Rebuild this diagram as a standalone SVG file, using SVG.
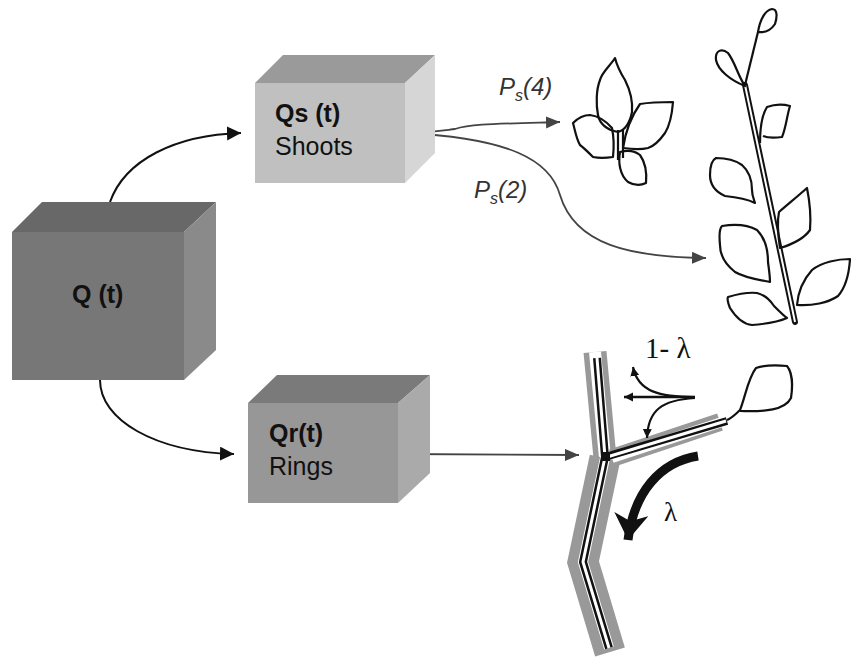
<svg xmlns="http://www.w3.org/2000/svg" width="851" height="657" viewBox="0 0 851 657">
<style>
.lbl{font-family:"Liberation Sans",Arial,sans-serif;font-size:25px;fill:#111}
.b{font-weight:bold}
.ps{font-family:"Liberation Sans",Arial,sans-serif;font-style:italic;font-size:24px;fill:#333}
.ser{font-family:"Liberation Serif","Times New Roman",serif;fill:#111}
.leaf{fill:none;stroke:#111;stroke-width:2.2;stroke-linejoin:round}
.conB{fill:none;stroke:#111;stroke-width:2}
.conG{fill:none;stroke:#444;stroke-width:1.8}
</style>
<defs>
<marker id="ab" markerUnits="userSpaceOnUse" markerWidth="20" markerHeight="20" refX="14" refY="7" orient="auto">
<path d="M0,0 L14,7 L0,14 Z" fill="#111"/>
</marker>
<marker id="ag" markerUnits="userSpaceOnUse" markerWidth="20" markerHeight="20" refX="14" refY="6" orient="auto">
<path d="M0,0 L14,6 L0,12 Z" fill="#444"/>
</marker>
<marker id="as" markerUnits="userSpaceOnUse" markerWidth="14" markerHeight="14" refX="9" refY="4.5" orient="auto">
<path d="M0,0 L9,4.5 L0,9 Z" fill="#111"/>
</marker>
<marker id="abig" markerUnits="userSpaceOnUse" markerWidth="40" markerHeight="40" refX="26" refY="17" orient="auto">
<path d="M0,0 L26,17 L0,34 L7,17 Z" fill="#111"/>
</marker>
</defs>
<rect width="851" height="657" fill="#fff"/>

<g id="connectors">
<path class="conB" d="M110,202 C125,160 175,135 241,133" marker-end="url(#ab)"/>
<path class="conB" d="M100,380 C100,420 155,452 234,454" marker-end="url(#ab)"/>
<path class="conG" d="M398,454 L579,455" marker-end="url(#ag)"/>
<path class="conG" d="M405,133 C430,133 440,131 455,129 C470,124 490,124 560,122" marker-end="url(#ag)"/>
<path class="conG" d="M405,133 C510,138 550,160 560,195 C575,245 630,257 706,258" marker-end="url(#ag)"/>
</g>

<g id="node-Q">
<polygon points="12,232 42,202 216,202 184,232" fill="#686868"/>
<polygon points="184,232 216,202 216,350 184,380" fill="#8a8a8a"/>
<rect x="12" y="232" width="172" height="148" fill="#777"/>
<text class="lbl b" x="72" y="303">Q (t)</text>
</g>

<g id="node-Qs">
<polygon points="255,83 283,55 435,55 405,83" fill="#9a9a9a"/>
<polygon points="405,83 435,55 435,153 405,183" fill="#d6d6d6"/>
<rect x="255" y="83" width="150" height="100" fill="#c0c0c0"/>
<text class="lbl b" x="275" y="122">Qs (t)</text>
<text class="lbl" x="275" y="155" fill="#222">Shoots</text>
</g>

<g id="node-Qr">
<polygon points="248,403 277,375 430,375 398,403" fill="#7a7a7a"/>
<polygon points="398,403 430,375 430,473 398,503" fill="#aaa"/>
<rect x="248" y="403" width="150" height="100" fill="#979797"/>
<text class="lbl b" x="269" y="442">Qr(t)</text>
<text class="lbl" x="269" y="475" fill="#222">Rings</text>
</g>

<g id="labels">
<text class="ps" x="499" y="95">P<tspan font-size="16" dy="6">s</tspan><tspan dy="-6">(4)</tspan></text>
<text class="ps" x="474" y="198">P<tspan font-size="16" dy="6">s</tspan><tspan dy="-6">(2)</tspan></text>
</g>

<g id="shoot-small">
<path class="leaf" d="M615,58 C610,66 602,72 600,80 C596,90 596,105 598,115 C600,125 608,130 618,132 C625,130 630,122 632,112 C633,100 630,90 625,80 C620,72 617,66 615,58 Z"/>
<path class="leaf" d="M623,148 C625,135 630,118 640,104 C652,102 663,102 673,102 C672,115 670,125 665,133 C660,140 655,146 648,148 C640,150 630,149 623,148 Z"/>
<path class="leaf" d="M573,123 C578,118 583,115 590,115 C598,116 605,120 612,128 C614,138 614,148 613,157 C606,158 598,158 593,157 C588,152 584,148 580,145 C576,138 575,130 573,123 Z"/>
<path class="leaf" d="M620,152 C618,163 620,175 628,182 C635,186 642,185 646,183 C647,172 645,162 640,155 C635,151 628,150 620,152 Z"/>
<path class="leaf" stroke-width="1.6" d="M618,130 L618,160 M623,130 L623,158"/>
</g>

<g id="shoot-large">
<path d="M795,322 L745,85" stroke="#111" stroke-width="6" fill="none" stroke-linecap="round"/>
<path d="M795,322 L745,85" stroke="#fff" stroke-width="2" fill="none"/>
<path class="leaf" d="M745,85 L758,32"/>
<path class="leaf" d="M758,32 C760,20 765,10 772,9 C778,9 777,18 775,24 C771,30 765,33 758,32 Z"/>
<path class="leaf" d="M745,86 C738,76 735,62 728,53 C722,48 715,50 716,60 C718,70 730,80 745,86 Z"/>
<path class="leaf" d="M760,143 C760,130 762,115 767,107 C775,104 783,104 790,106 C787,115 786,128 782,137 C775,138 768,138 763,136"/>
<path class="leaf" d="M755,203 C745,198 735,197 725,196 C716,192 710,185 710,175 C710,165 712,160 716,158 C725,158 735,160 742,165 C750,172 752,180 752,190 C752,196 754,200 755,203 Z"/>
<path class="leaf" d="M780,248 C778,235 777,222 779,212 C787,205 798,196 807,188 C810,203 811,218 810,230 C803,240 790,245 780,248 Z"/>
<path class="leaf" d="M770,282 C760,280 745,278 735,272 C725,264 720,255 720,245 C719,235 720,228 722,226 C735,224 748,225 757,230 C765,238 768,250 768,262 C769,270 770,276 770,282 Z"/>
<path class="leaf" d="M797,305 C798,293 803,280 812,270 C822,262 838,259 850,259 C849,275 845,288 838,296 C828,303 812,306 797,305 Z"/>
<path class="leaf" d="M787,318 C778,322 765,324 752,325 C742,324 735,316 730,308 C728,303 727,299 728,297 C738,294 748,292 757,293 C765,295 770,300 774,306 C780,312 784,316 787,318 Z"/>
</g>

<g id="ring-branch">
<path d="M595,352 L605,458" stroke="#999" stroke-width="23" fill="none"/>
<path d="M595,352 L605,458" stroke="#fff" stroke-width="12" fill="none"/>
<path d="M605,458 L583,562 L610,652" stroke="#999" stroke-width="31" fill="none" stroke-linejoin="miter"/>
<path d="M612,458 L720,422" stroke="#999" stroke-width="18" fill="none"/>
<path d="M605,458 L583,562 L609,648" stroke="#fff" stroke-width="10" fill="none"/>
<path d="M612,458 L722,422" stroke="#fff" stroke-width="10" fill="none"/>
<path d="M597,358 L605,457 L583,562 L609,648" stroke="#111" stroke-width="8" fill="none"/>
<path d="M597,358 L605,457 L583,562 L609,648" stroke="#fff" stroke-width="3" fill="none"/>
<path d="M605,457 L727,421" stroke="#111" stroke-width="8" fill="none"/>
<path d="M607,457 L726,421" stroke="#fff" stroke-width="3" fill="none"/>
<rect x="601" y="452" width="9" height="9" fill="#111"/>
<path class="leaf" d="M727,420 C732,418 736,414 740,410 C745,398 748,378 756,368 C765,365 777,365 787,366 C792,372 793,385 791,398 C785,410 765,412 740,411"/>
</g>

<g id="flow-arrows">
<path d="M695,397 L624,397" stroke="#111" stroke-width="2.4" fill="none" marker-end="url(#as)"/>
<path d="M695,397 C660,397 638,392 633,367" stroke="#111" stroke-width="2.2" fill="none" marker-end="url(#as)"/>
<path d="M695,398 C662,400 648,410 647,438" stroke="#111" stroke-width="2.2" fill="none" marker-end="url(#as)"/>
<path d="M698,456 C660,462 634,492 628,540" stroke="#111" stroke-width="9" fill="none" marker-end="url(#abig)"/>
<text class="ser" x="645" y="358" font-size="29">1- λ</text>
<text class="ser" x="664" y="521" font-size="27">λ</text>
</g>
</svg>
